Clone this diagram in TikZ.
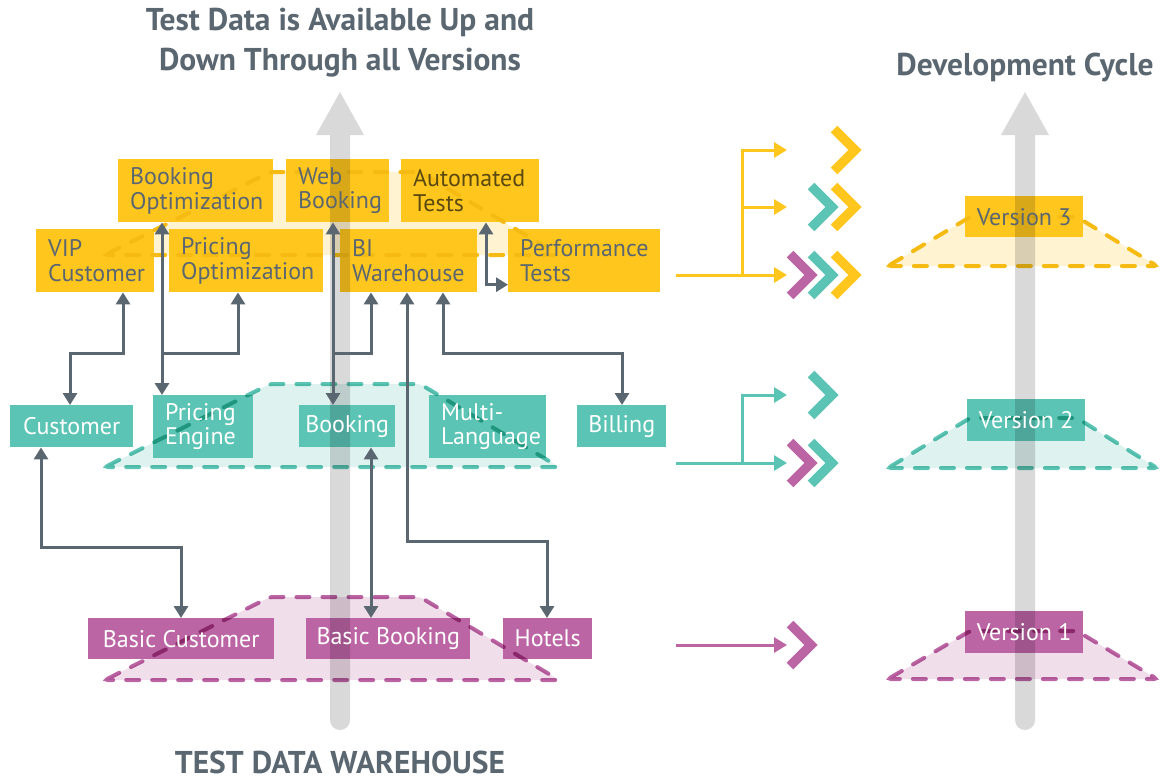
\documentclass[tikz,border=0pt]{standalone}
\usepackage{fontspec}
\setmainfont{PT Sans}
\usetikzlibrary{arrows.meta}
\hyphenpenalty=10000
\exhyphenpenalty=10000
\definecolor{slate}{HTML}{5B6770}
\definecolor{yel}{HTML}{FFC61E}
\definecolor{yelD}{HTML}{F5BB12}
\definecolor{tea}{HTML}{5BC4B4}
\definecolor{mag}{HTML}{BC65A5}
\definecolor{yelL}{HTML}{FFF3D1}
\definecolor{teaL}{HTML}{DEF2EF}
\definecolor{magL}{HTML}{F1DEEB}
\definecolor{colg}{HTML}{D9D9D9}
\definecolor{olivetext}{HTML}{5A4A10}
\pgfdeclarelayer{bg}
\pgfsetlayers{bg,main}
\begin{document}
\begin{tikzpicture}[x=1pt,y=-1pt,
  box/.style={anchor=north west, inner sep=0pt, font=\fontsize{24}{24.5}\selectfont},
  lbox/.style={box, align=left, inner xsep=12pt},
  cbox/.style={box, align=center},
  yb/.style={text=slate},
  tb/.style={text=white},
  mb/.style={text=white},
  title/.style={font=\fontsize{31.5}{40}\selectfont\bfseries, text=slate, inner sep=0pt},
  conn/.style={draw=slate, line width=3pt},
  >={Triangle[length=12pt,width=14pt]},
  carr/.style={line width=3pt, -{Triangle[length=13pt,width=15pt]}},
  trapline/.style={line width=4pt, line cap=round, dash pattern=on 13pt off 13pt, rounded corners=3pt},
  chevline/.style={line width=9.5pt, line join=miter, line cap=butt}
]
\useasboundingbox (0,0) rectangle (1172,780);

% ---------- yellow boxes ----------
\node[lbox, yb, text width=131pt, minimum height=63pt] (bo) at (118,159) {Booking\\Optimization};
\node[lbox, yb, text width=79pt, minimum height=63pt] (wb) at (286,159) {Web\\Booking};
\node[lbox, yb, text=olivetext, text width=114pt, minimum height=63pt] (aut) at (401,159) {Automated\\Tests};
\node[lbox, yb, text width=94pt, minimum height=63pt] (vip) at (36,229) {VIP\\Customer};
\node[lbox, yb, text width=130pt, minimum height=63pt] (po) at (169,229) {Pricing\\Optimization};
\node[lbox, yb, text width=113pt, minimum height=63pt] (bi) at (340,229) {BI\\Warehouse};
\node[lbox, yb, text width=128pt, minimum height=63pt] (pt) at (508,229) {Performance\\Tests};

% ---------- teal boxes ----------
\node[cbox, tb, minimum width=123pt, minimum height=42pt] (cust) at (10,405) {Customer};
\node[lbox, tb, text width=76pt, minimum height=63pt] (pe) at (153,395) {Pricing\\Engine};
\node[cbox, tb, minimum width=96pt, minimum height=42pt] (bk) at (299,405) {Booking};
\node[lbox, tb, text width=93pt, minimum height=63pt] (ml) at (429,395) {Multi-\\Language};
\node[cbox, tb, minimum width=89pt, minimum height=42pt] (bil) at (577,405) {Billing};

% ---------- magenta boxes ----------
\node[cbox, mb, minimum width=186pt, minimum height=41pt] (bc) at (88,618) {Basic Customer};
\node[cbox, mb, minimum width=164pt, minimum height=41pt] (bb) at (306,618) {Basic Booking};
\node[cbox, mb, minimum width=89pt, minimum height=41pt] (ho) at (503,618) {Hotels};

% ---------- version boxes ----------
\node[cbox, yb, minimum width=118pt, minimum height=41pt] (v3) at (965,196) {Version 3};
\node[cbox, tb, minimum width=118pt, minimum height=42pt] (v2) at (967,399) {Version 2};
\node[cbox, mb, minimum width=118pt, minimum height=42pt] (v1) at (965,611) {Version 1};

\begin{pgfonlayer}{bg}
% trapezoid fills
\fill[yelL, rounded corners=3pt] (105,255) -- (270,172) -- (420,172) -- (559,255) -- cycle;
\fill[teaL, rounded corners=3pt] (105,467) -- (270,384) -- (420,384) -- (559,467) -- cycle;
\fill[magL, rounded corners=3pt] (105,680) -- (270,597) -- (420,597) -- (559,680) -- cycle;
\fill[yelL, rounded corners=3pt] (888,266) -- (970,217) -- (1077,217) -- (1157,266) -- cycle;
\fill[teaL, rounded corners=3pt] (888,468) -- (970,418) -- (1077,418) -- (1157,468) -- cycle;
\fill[magL, rounded corners=3pt] (888,679) -- (970,631) -- (1077,631) -- (1157,679) -- cycle;
% box fills
\foreach \n in {bo,wb,aut,vip,po,bi,pt,v3} \fill[yel] (\n.north west) rectangle (\n.south east);
\foreach \n in {cust,pe,bk,ml,bil,v2} \fill[tea] (\n.north west) rectangle (\n.south east);
\foreach \n in {bc,bb,ho,v1} \fill[mag] (\n.north west) rectangle (\n.south east);
% dashed outlines
\draw[trapline, yelD] (105,255) -- (270,172) -- (420,172) -- (559,255) -- cycle;
\draw[trapline, yelD] (888,266) -- (970,217) -- (1077,217) -- (1157,266) -- cycle;
\begin{scope}[blend mode=multiply]
\draw[trapline, tea] (105,467) -- (270,384) -- (420,384) -- (559,467) -- cycle;
\draw[trapline, mag] (105,680) -- (270,597) -- (420,597) -- (559,680) -- cycle;
\draw[trapline, tea] (888,468) -- (970,418) -- (1077,418) -- (1157,468) -- cycle;
\draw[trapline, mag] (888,679) -- (970,631) -- (1077,631) -- (1157,679) -- cycle;
% gray columns
\fill[colg] (330,135) -- (316,135) -- (340,92) -- (364,135) -- (350,135) -- (350,720)
  arc[start angle=0, end angle=180, radius=10] -- cycle;
\fill[colg] (1015,135) -- (1001,135) -- (1025,92) -- (1049,135) -- (1035,135) -- (1035,720)
  arc[start angle=0, end angle=180, radius=10] -- cycle;
\end{scope}
\end{pgfonlayer}

% ---------- connectors ----------
\coordinate (lvA) at (0,353);
\coordinate (lvB) at (0,541);
\coordinate (lvC) at (0,547);

\coordinate (p1a) at ([xshift=87pt]vip.south west);
\coordinate (p1b) at ([xshift=60pt]cust.north west);
\draw[conn,<->] (p1a) -- (p1a |- lvA) -| (p1b);

\coordinate (p2a) at ([xshift=44pt]bo.south west);
\coordinate (p2b) at ([xshift=9pt]pe.north west);
\draw[conn,<->] (p2a) -- (p2b);
\coordinate (p3) at ([xshift=69pt]po.south west);
\draw[conn,->] (p2b |- lvA) -| (p3);

\coordinate (p4a) at ([xshift=47pt]wb.south west);
\coordinate (p4b) at ([xshift=34pt]bk.north west);
\draw[conn,<->] (p4a) -- (p4b);
\coordinate (p5) at ([xshift=31pt]bi.south west);
\draw[conn,->] (p4b |- lvA) -| (p5);

\coordinate (p6a) at ([xshift=67pt]bi.south west);
\coordinate (p6b) at ([xshift=44pt]ho.north west);
\draw[conn,<->] (p6a) -- (p6a |- lvB) -| (p6b);

\coordinate (p7a) at ([xshift=103pt]bi.south west);
\coordinate (p7b) at ([xshift=45pt]bil.north west);
\draw[conn,<->] (p7a) -- (p7a |- lvA) -| (p7b);

\coordinate (p8a) at ([xshift=31pt]cust.south west);
\coordinate (p8b) at ([xshift=93pt]bc.north west);
\draw[conn,<->] (p8a) -- (p8a |- lvC) -| (p8b);

\coordinate (p9a) at ([xshift=72pt]bk.south west);
\coordinate (p9b) at ([xshift=65pt]bb.north west);
\draw[conn,<->] (p9a) -- (p9b);

\coordinate (p10a) at ([xshift=85pt]aut.south west);
\coordinate (p10b) at ([yshift=-24pt]pt.west);
\draw[conn,<->] (p10a) |- (p10b);

% ---------- development-cycle arrows ----------
\coordinate (ys) at (676,275); \coordinate (ybr) at (742,275);
\coordinate (y1) at (787,150); \coordinate (y2) at (787,207); \coordinate (y3) at (787,275);
\draw[carr, yel] (ys) -- (y3);
\draw[carr, yel] (ybr) |- (y1);
\draw[carr, yel] (ybr) |- (y2);

\coordinate (ts) at (676,463); \coordinate (tbr) at (742,463);
\coordinate (t1) at (787,395); \coordinate (t2) at (787,463);
\draw[carr, tea] (ts) -- (t2);
\draw[carr, tea] (tbr) |- (t1);

\coordinate (ms) at (676,645); \coordinate (m1) at (787,645);
\draw[carr, mag] (ms) -- (m1);

% ---------- chevrons ----------
\newcommand\chevmark[3]{\draw[chevline, #3] (#1-21,#2-21) -- (#1,#2) -- (#1-21,#2+21);}
\chevmark{855}{150}{yel}
\chevmark{832}{207}{tea}
\chevmark{855}{207}{yel}
\chevmark{811}{275}{mag}
\chevmark{832}{275}{tea}
\chevmark{855}{275}{yel}
\chevmark{832}{395}{tea}
\chevmark{811}{463}{mag}
\chevmark{832}{463}{tea}
\chevmark{811}{645}{mag}

% ---------- titles ----------
\node[title, align=center] (ttop) at (340,43) {Test Data is Available Up and\\Down Through all Versions};
\node[title, anchor=base] (tdev) at (1025,75) {Development Cycle};
\node[title, anchor=base] (twh) at (340,773) {TEST DATA WAREHOUSE};
\end{tikzpicture}
\end{document}
